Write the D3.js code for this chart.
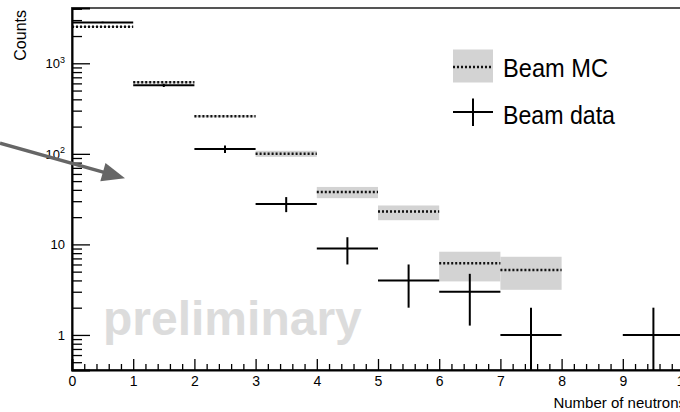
<!DOCTYPE html>
<html>
<head>
<meta charset="utf-8">
<title>Number of neutrons</title>
<script src="https://d3js.org/d3.v7.min.js"></script>
<style>
  body { margin: 0; background: #fff; }
  svg { display: block; font-family: "Liberation Sans", Arial, Helvetica, sans-serif; }
</style>
</head>
<body>
<div id="chart"></div>
<script>
// bin lower edges (width 1) and counts per bin
const binEdges = [0, 1, 2, 3, 4, 5, 6, 7, 8, 9];
const dataCounts = [2830, 571, 113, 28, 9, 4, 3, 1, 0, 1];
const mcBins = [0, 1, 2, 3, 4, 5, 6, 7];
const mcCounts = [2540, 617, 260, 100, 37.8, 23.1, 6.2, 5.2];
const mcLow = [2500, 600, 253, 92.6, 32.4, 18.5, 3.9, 3.15];
const mcHigh = [2580, 635, 267, 108, 43.1, 26.9, 8.3, 7.3];

const xTickValues = [0, 1, 2, 3, 4, 5, 6, 7, 8, 9, 10];
const xTickLabels = ["0", "1", "2", "3", "4", "5", "6", "7", "8", "9", "10"];
const yMajorTicks = [1, 10, 100, 1000];
const yTickLabels = ["1", "10", "10|2", "10|3"];
const legendLabels = ["Beam MC", "Beam data"];

const width = 680, height = 412;
const yMin = 0.41, yMax = 4080;

const svg = d3.select("#chart").append("svg")
  .attr("width", width)
  .attr("height", height);

svg.append("rect").attr("width", width).attr("height", height).attr("fill", "#fff");

const x = d3.scaleLinear().domain([0, 10]).range([72, 684]);
const y = d3.scaleLog().domain([yMin, yMax]).range([370, 8]);

// watermark
svg.append("text")
  .attr("x", 103).attr("y", 335)
  .attr("font-size", 48)
  .attr("font-weight", "bold")
  .attr("fill", "#dcdcdc")
  .text("preliminary");

// frame
svg.append("rect")
  .attr("x", x(0)).attr("y", y(yMax))
  .attr("width", x(10) - x(0)).attr("height", y(yMin) - y(yMax))
  .attr("fill", "none").attr("stroke", "#555").attr("stroke-width", 2);

// MC uncertainty band
svg.append("g").attr("fill", "#d3d3d3")
  .selectAll("rect")
  .data(mcBins)
  .join("rect")
    .attr("x", d => x(d))
    .attr("width", d => x(d + 1) - x(d))
    .attr("y", (d, i) => y(mcHigh[i]))
    .attr("height", (d, i) => y(mcLow[i]) - y(mcHigh[i]));

// MC central values, dotted
svg.append("g").attr("stroke", "#111").attr("stroke-width", 2.5).attr("stroke-dasharray", "2,2")
  .selectAll("line")
  .data(mcBins)
  .join("line")
    .attr("x1", d => x(d))
    .attr("x2", d => x(d + 1))
    .attr("y1", (d, i) => y(mcCounts[i]))
    .attr("y2", (d, i) => y(mcCounts[i]));

// data points with sqrt(N) errors
const pts = binEdges.map((b, i) => ({ b: b, n: dataCounts[i] })).filter(d => d.n > 0);
const dg = svg.append("g").attr("stroke", "#000").attr("stroke-width", 2);
dg.selectAll("line.h")
  .data(pts)
  .join("line")
    .attr("class", "h")
    .attr("x1", d => x(d.b))
    .attr("x2", d => x(d.b + 1))
    .attr("y1", d => y(d.n))
    .attr("y2", d => y(d.n));
dg.selectAll("line.v")
  .data(pts)
  .join("line")
    .attr("class", "v")
    .attr("x1", d => x(d.b + 0.5))
    .attr("x2", d => x(d.b + 0.5))
    .attr("y1", d => y(d.n + Math.sqrt(d.n)))
    .attr("y2", d => y(Math.max(d.n - Math.sqrt(d.n), yMin)));

// x axis
const xMinor = d3.range(0, 10.01, 0.2).filter(v => Math.abs(v - Math.round(v)) > 0.01);
svg.append("g")
  .attr("transform", `translate(0,${y(yMin)})`)
  .call(d3.axisBottom(x).tickValues(xMinor).tickSize(-6).tickFormat(""))
  .call(g => g.select(".domain").remove())
  .call(g => g.selectAll("line").attr("stroke", "#000").attr("stroke-width", 1.3));
svg.append("g")
  .attr("transform", `translate(0,${y(yMin)})`)
  .call(d3.axisBottom(x).tickValues(xTickValues).tickSize(-11).tickPadding(6)
    .tickFormat((d, i) => xTickLabels[i]))
  .call(g => g.select(".domain").attr("stroke", "#000").attr("stroke-width", 2))
  .call(g => g.selectAll("line").attr("stroke", "#000").attr("stroke-width", 1.3))
  .call(g => g.selectAll("text").attr("font-size", 14).attr("fill", "#000")
    .attr("font-family", "Liberation Sans, Arial, sans-serif"));

// y axis
const yMinor = [];
[0.1, 1, 10, 100, 1000].forEach(dec => {
  for (let k = 2; k <= 9; k++) {
    const v = k * dec;
    if (v >= yMin && v <= yMax) yMinor.push(v);
  }
});
svg.append("g")
  .attr("transform", `translate(${x(0)},0)`)
  .call(d3.axisLeft(y).tickValues(yMinor).tickSize(-10).tickFormat(""))
  .call(g => g.select(".domain").remove())
  .call(g => g.selectAll("line").attr("stroke", "#000").attr("stroke-width", 1.3));
const yAx = svg.append("g")
  .attr("transform", `translate(${x(0)},0)`)
  .call(d3.axisLeft(y).tickValues(yMajorTicks).tickSize(-18).tickPadding(7).tickFormat(""))
  .call(g => g.select(".domain").attr("stroke", "#000").attr("stroke-width", 2))
  .call(g => g.selectAll("line").attr("stroke", "#000").attr("stroke-width", 1.3));
yAx.selectAll(".tick text").each(function (d, i) {
  const parts = yTickLabels[i].split("|");
  const t = d3.select(this)
    .attr("font-size", 13).attr("fill", "#000")
    .attr("font-family", "Liberation Sans, Arial, sans-serif");
  t.append("tspan").text(parts[0]);
  if (parts[1]) {
    t.append("tspan").attr("font-size", 9).attr("dy", "-0.6em").text(parts[1]);
  }
});

// axis titles
svg.append("text")
  .attr("transform", "translate(25.5,10) rotate(-90)")
  .attr("text-anchor", "end")
  .attr("font-size", 16)
  .text("Counts");
svg.append("text")
  .attr("x", 686).attr("y", 407.5)
  .attr("text-anchor", "end")
  .attr("font-size", 15)
  .text("Number of neutrons");

// legend
const lg = svg.append("g");
lg.append("rect").attr("x", 453).attr("y", 49.5).attr("width", 40).attr("height", 33).attr("fill", "#d3d3d3");
lg.append("line").attr("x1", 453).attr("x2", 493).attr("y1", 67).attr("y2", 67)
  .attr("stroke", "#111").attr("stroke-width", 2.5).attr("stroke-dasharray", "2,2");
lg.append("line").attr("x1", 453).attr("x2", 493).attr("y1", 112).attr("y2", 112)
  .attr("stroke", "#000").attr("stroke-width", 2);
lg.append("line").attr("x1", 473).attr("x2", 473).attr("y1", 98.5).attr("y2", 126)
  .attr("stroke", "#000").attr("stroke-width", 2);
lg.selectAll("text")
  .data(legendLabels)
  .join("text")
    .attr("x", 503)
    .attr("y", (d, i) => i === 0 ? 77 : 123.5)
    .attr("font-size", 26)
    .attr("textLength", (d, i) => i === 0 ? 105 : 112)
    .attr("lengthAdjust", "spacingAndGlyphs")
    .text(d => d);

// pointer arrow
const ag = svg.append("g").attr("fill", "#666").attr("stroke", "#666");
ag.append("line").attr("x1", 0).attr("y1", 143.3).attr("x2", 105).attr("y2", 172.6).attr("stroke-width", 3.5);
ag.append("path").attr("stroke", "none").attr("d", "M125,178.3L100.3,181.3L105.5,163Z");
</script>
</body>
</html>
